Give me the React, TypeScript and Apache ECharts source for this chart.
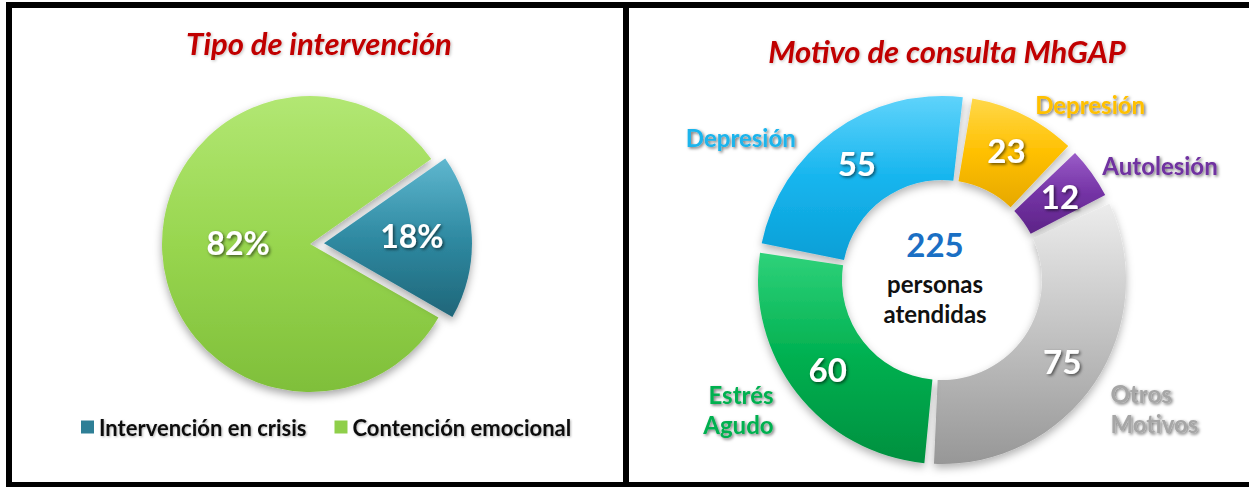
import React, { useEffect, useRef } from "react";
import * as echarts from "echarts";

const leftTitle = "Tipo de intervención";
const leftNames = ["Intervención en crisis", "Contención emocional"];
const leftValues = [18, 82];

const rightTitle = "Motivo de consulta MhGAP";
const rightNames = ["Depresión", "Depresión", "Autolesión", "Otros\nMotivos", "Estrés\nAgudo"];
const rightValues = [55, 23, 12, 75, 60];
const centerCaption = ["personas", "atendidas"];

const FONT = "Lato, 'Open Sans', sans-serif";

const lin = (c1: string, c2: string, c3: string) => ({
  type: "linear", x: 0, y: 0, x2: 0, y2: 1,
  colorStops: [
    { offset: 0, color: c1 },
    { offset: 0.5, color: c2 },
    { offset: 1, color: c3 },
  ],
});

const leftColors = [
  lin("#5fb7cf", "#2f8aa2", "#1f6679"),
  lin("#b2e773", "#98d64f", "#7fbf3a"),
];
const leftIcon = ["#2e7f96", "#8fcf4a"];

const rightColors = [
  lin("#5fd3fb", "#16b5ee", "#0a9fd6"),
  lin("#ffd84a", "#ffc000", "#e6a800"),
  lin("#9a5cc8", "#7433a5", "#5d2487"),
  lin("#ececec", "#c2c2c2", "#979797"),
  lin("#2fd27a", "#00b050", "#00903f"),
];
const rightLabelColors = ["#1ab4ec", "#ffc000", "#7030a0", "#a6a6a6", "#00b050"];
// fine nudges of the labels
const leftLabelNudge = [[11, -4], [5, -5]];
const labelNudge = [[-8, 16], [-17, 0], [-22, 0], [-17, 19], [9, 9]];

export default function App() {
  const ref = useRef<HTMLDivElement>(null);
  useEffect(() => {
    if (!ref.current) return;
    const chart = echarts.init(ref.current, null, { renderer: "svg" });
    const total = rightValues.reduce((a, b) => a + b, 0);
    const valueShadow = {
      textShadowColor: "rgba(0,0,0,0.6)",
      textShadowBlur: 3,
      textShadowOffsetX: 1.5,
      textShadowOffsetY: 1.5,
    };
    const titleStyle = {
      fontFamily: FONT, fontSize: 31, fontWeight: "bold", fontStyle: "italic",
      color: "#c00000", textShadowColor: "rgba(0,0,0,0.25)", textShadowBlur: 3,
      textShadowOffsetX: 1, textShadowOffsetY: 1,
    };
    const option: any = {
      animation: false,
      backgroundColor: "#ffffff",
      title: [
        { text: leftTitle, left: 314, top: 22, textAlign: "center", textStyle: titleStyle },
        { text: rightTitle, left: 942, top: 30, textAlign: "center", textStyle: titleStyle },
      ],
      legend: {
        left: 76,
        top: 411,
        itemWidth: 13,
        itemHeight: 13,
        itemGap: 28,
        icon: "rect",
        textStyle: {
          fontFamily: FONT, fontSize: 22, fontWeight: "bold", color: "#111",
          textShadowColor: "rgba(0,0,0,0.3)", textShadowBlur: 2, textShadowOffsetX: 1, textShadowOffsetY: 1,
        },
        data: leftNames.map((n, i) => ({ name: n, itemStyle: { color: leftIcon[i] } })),
      },
      series: [
        {
          type: "pie",
          center: [310, 244],
          radius: [0, 148],
          startAngle: 35,
          selectedMode: "single",
          selectedOffset: 14,
          itemStyle: {
            shadowColor: "rgba(0,0,0,0.35)", shadowBlur: 8, shadowOffsetY: 4,
          },
          label: {
            position: "inside",
            formatter: "{c}%",
            fontFamily: FONT, fontSize: 32, fontWeight: "bold", color: "#fff",
            ...valueShadow,
          },
          labelLine: { show: false },
          labelLayout: (p: any) => ({
            dx: leftLabelNudge[p.dataIndex][0],
            dy: leftLabelNudge[p.dataIndex][1],
          }),
          data: leftNames.map((n, i) => ({
            name: n,
            value: leftValues[i],
            selected: i === 0,
            itemStyle: { color: leftColors[i] },
          })),
        },
        {
          type: "pie",
          center: [942, 280],
          radius: [100, 184],
          startAngle: 170,
          padAngle: 3,
          itemStyle: {
            shadowColor: "rgba(0,0,0,0.3)", shadowBlur: 8, shadowOffsetY: 4,
          },
          label: {
            position: "inside",
            formatter: "{c}",
            fontFamily: FONT, fontSize: 33, fontWeight: "bold", color: "#fff",
            ...valueShadow,
          },
          labelLine: { show: false },
          data: rightNames.map((n, i) => ({
            name: n,
            value: rightValues[i],
            itemStyle: { color: rightColors[i] },
          })),
        },
        {
          type: "pie",
          center: [942, 280],
          radius: [100, 184],
          startAngle: 170,
          padAngle: 3,
          silent: true,
          itemStyle: { color: "rgba(0,0,0,0)" },
          label: {
            position: "outside",
            formatter: "{b}",
            overflow: "none",
            edgeDistance: 0,
            bleedMargin: 0,
            fontFamily: FONT, fontSize: 24, fontWeight: "bold", lineHeight: 30,
            textShadowColor: "rgba(0,0,0,0.55)", textShadowBlur: 3,
            textShadowOffsetX: 1.5, textShadowOffsetY: 1.5,
          },
          labelLine: { show: false, length: 12, length2: 18 },
          labelLayout: (p: any) => ({
            dx: labelNudge[p.dataIndex][0],
            dy: labelNudge[p.dataIndex][1],
          }),
          data: rightNames.map((n, i) => ({
            name: n,
            value: rightValues[i],
            label: { color: rightLabelColors[i] },
          })),
        },
      ],
      graphic: [
        { type: "rect", shape: { x: 6, y: 2, width: 1243, height: 6 }, style: { fill: "#000" } },
        { type: "rect", shape: { x: 6, y: 2, width: 6, height: 485 }, style: { fill: "#000" } },
        { type: "rect", shape: { x: 623, y: 2, width: 6, height: 485 }, style: { fill: "#000" } },
        { type: "rect", shape: { x: 6, y: 482, width: 1243, height: 5 }, style: { fill: "#000" } },
        {
          type: "text", x: 935, y: 244,
          style: {
            text: String(total), align: "center", verticalAlign: "middle",
            font: `bold 33px ${FONT}`, fill: "#1a6fc4",
            shadowColor: "rgba(0,0,0,0.3)", shadowBlur: 2, shadowOffsetX: 1, shadowOffsetY: 1,
          },
        },
        {
          type: "text", x: 935, y: 283,
          style: {
            text: centerCaption[0], align: "center", verticalAlign: "middle",
            font: `bold 24px ${FONT}`, fill: "#111",
          },
        },
        {
          type: "text", x: 935, y: 313,
          style: {
            text: centerCaption[1], align: "center", verticalAlign: "middle",
            font: `bold 24px ${FONT}`, fill: "#111",
          },
        },
      ],
    };
    chart.setOption(option);
    return () => chart.dispose();
  }, []);
  return (
    <div
      ref={ref}
      style={{ position: "fixed", left: 0, top: 0, width: 1249, height: 487 }}
    />
  );
}
